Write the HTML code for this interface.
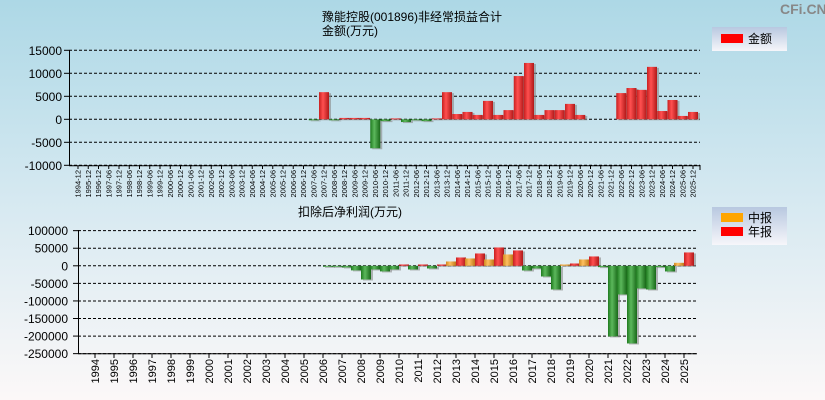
<!DOCTYPE html>
<html><head><meta charset="utf-8"><style>
html,body{margin:0;padding:0;width:825px;height:400px;overflow:hidden}
svg{display:block;font-family:"Liberation Sans","Noto Sans CJK SC",sans-serif}
</style></head><body>
<svg id="c" width="825" height="400" xmlns="http://www.w3.org/2000/svg">
<defs>
<linearGradient id="bg" x1="0" y1="0" x2="0" y2="1"><stop offset="0" stop-color="#add8e6"/><stop offset="0.5" stop-color="#d6e9f1"/><stop offset="1" stop-color="#fcf8f8"/></linearGradient>
<linearGradient id="gr" x1="0" y1="0" x2="1" y2="0"><stop offset="0" stop-color="#c82020"/><stop offset="0.4" stop-color="#ff5050"/><stop offset="1" stop-color="#b01818"/></linearGradient>
<linearGradient id="gg" x1="0" y1="0" x2="1" y2="0"><stop offset="0" stop-color="#1e7a1e"/><stop offset="0.4" stop-color="#5cb85c"/><stop offset="1" stop-color="#186818"/></linearGradient>
<linearGradient id="go" x1="0" y1="0" x2="1" y2="0"><stop offset="0" stop-color="#d08a20"/><stop offset="0.4" stop-color="#ffc060"/><stop offset="1" stop-color="#c07818"/></linearGradient>
<linearGradient id="lg" x1="0" y1="0" x2="0" y2="1"><stop offset="0" stop-color="#b8c8e0"/><stop offset="1" stop-color="#f6f6fa"/></linearGradient>
</defs>
<rect width="825" height="400" fill="url(#bg)"/>
<text x="780" y="14" font-size="14" font-weight="bold" fill="#888">CFi.CN</text>
<text x="412" y="21" font-size="12" text-anchor="middle">豫能控股(001896)非经常损益合计</text>
<text x="350" y="35" font-size="12" text-anchor="middle">金额(万元)</text>
<text x="350" y="216" font-size="12" text-anchor="middle">扣除后净利润(万元)</text>
<g><rect x="712" y="27" width="75" height="24" fill="url(#lg)"/><rect x="721" y="34" width="22" height="9" fill="#f00"/><text x="748" y="43" font-size="12">金额</text></g>
<g><rect x="712" y="207" width="75" height="38" fill="url(#lg)"/><rect x="721" y="213" width="22" height="9" fill="#ffa500"/><text x="748" y="222" font-size="12">中报</text><rect x="721" y="227" width="22" height="9" fill="#f00"/><text x="748" y="236" font-size="12">年报</text></g>
<g id="top"></g><g id="bot"></g>
</svg>
<script>
const topLabels=["1994-12","1995-12","1996-12"];
for(let y=1997;y<=2025;y++){topLabels.push(y+"-06");topLabels.push(y+"-12");}
const topValues={"2007-06":-50,"2007-12":5900,"2008-06":-100,"2008-12":300,"2009-06":300,"2009-12":300,"2010-06":-6300,"2010-12":-400,"2011-06":200,"2011-12":-600,"2012-06":-200,"2012-12":-400,"2013-06":200,"2013-12":5900,"2014-06":1150,"2014-12":1600,"2015-06":950,"2015-12":4000,"2016-06":950,"2016-12":2000,"2017-06":9400,"2017-12":12250,"2018-06":950,"2018-12":2000,"2019-06":2000,"2019-12":3350,"2020-06":950,"2022-06":5700,"2022-12":6800,"2023-06":6400,"2023-12":11400,"2024-06":1800,"2024-12":4200,"2025-06":730,"2025-12":1600};
const topTicks=[15000,10000,5000,0,-5000,-10000];
const years=[];for(let y=1994;y<=2025;y++)years.push(y);
const halfValues={2007:-2000,2008:-13000,2009:-10400,2010:-10400,2011:-10400,2012:-7600,2013:12300,2014:20900,2015:18000,2016:32300,2017:-13300,2018:-30400,2019:3800,2020:18000,2021:-3800,2022:-81600,2023:-64500,2024:-3800,2025:8500};
const annualValues={2006:-1500,2007:-4700,2008:-39000,2009:-16000,2010:3800,2011:3800,2012:3800,2013:23700,2014:35100,2015:52200,2016:43700,2017:-7600,2018:-67400,2019:6600,2020:26600,2021:-201000,2022:-221000,2023:-67400,2024:-16100,2025:38000};
const botTicks=[100000,50000,0,-50000,-100000,-150000,-200000,-250000];
const NS="http://www.w3.org/2000/svg";
function mk(p,t,a){const e=document.createElementNS(NS,t);for(const k in a)e.setAttribute(k,a[k]);p.appendChild(e);return e;}
function bar(g,x,w,y0,y1,fill,nm){const t=Math.min(y0,y1),h=Math.max(Math.abs(y1-y0),1);
 const s=mk(g,"rect",{x:x+2,y:t+1,width:w,height:h,fill:"#888",opacity:"0.6"});
 
 
 const r=mk(g,"rect",{x:x,y:t,width:w,height:h,fill:fill});
 
 }
// top chart
const T=document.getElementById("top");
const tY=v=>119.3-v*0.0046, tX=i=>73+10.25*i;
topTicks.forEach(v=>{const y=tY(v);
 const l=mk(T,"line",{x1:69,x2:700,y1:y,y2:y,stroke:"#000","stroke-dasharray":"3,2","stroke-width":1});
 
 
 mk(T,"line",{x1:64,x2:69,y1:y,y2:y,stroke:"#000"});
 const t=mk(T,"text",{x:62,y:y+4.5,"font-size":12,"text-anchor":"end"});t.textContent=v;
 
 });
mk(T,"line",{x1:69.5,x2:69.5,y1:50,y2:166,stroke:"#000"});
mk(T,"line",{x1:69,x2:700,y1:165.7,y2:165.7,stroke:"#000"});
mk(T,"line",{x1:700,x2:700,y1:165,y2:170,stroke:"#000"});
topLabels.forEach((lb,i)=>{const cx=tX(i)+5;
 mk(T,"line",{x1:cx,x2:cx,y1:166,y2:169,stroke:"#000"});
 const t=mk(T,"text",{x:0,y:0,"font-size":7.5,"text-anchor":"end",transform:`translate(${cx+2.5},170) rotate(-90)`});t.textContent=lb;
 
 
 const v=topValues[lb]; if(v!==undefined) bar(T,tX(i),10,tY(0),tY(v),v>=0?"url(#gr)":"url(#gg)","bar-"+lb);});
// bottom chart
const B=document.getElementById("bot");
const bY=v=>265.8-v*0.0003514, bX=i=>95+19*i;
botTicks.forEach(v=>{const y=bY(v);
 const l=mk(B,"line",{x1:78,x2:697,y1:y,y2:y,stroke:"#000","stroke-dasharray":"3,2","stroke-width":1});
 
 
 mk(B,"line",{x1:73,x2:78,y1:y,y2:y,stroke:"#000"});
 const t=mk(B,"text",{x:68,y:y+4.5,"font-size":12,"text-anchor":"end"});t.textContent=v;
 
 });
mk(B,"line",{x1:78.5,x2:78.5,y1:230,y2:354,stroke:"#000"});
mk(B,"line",{x1:78,x2:697,y1:353.7,y2:353.7,stroke:"#000"});
years.forEach((yr,i)=>{const cx=bX(i);
 mk(B,"line",{x1:cx,x2:cx,y1:354,y2:358,stroke:"#000"});
 const t=mk(B,"text",{x:0,y:0,"font-size":11,"text-anchor":"end",transform:`translate(${cx+4},359) rotate(-90)`});t.textContent=yr;
 
 
 const h=halfValues[yr]; if(h!==undefined) bar(B,cx-10,10,bY(0),bY(h),h>=0?"url(#go)":"url(#gg)","half-bar-"+yr);
 const a=annualValues[yr]; if(a!==undefined) bar(B,cx,10,bY(0),bY(a),a>=0?"url(#gr)":"url(#gg)","annual-bar-"+yr);});
</script>
</body></html>
